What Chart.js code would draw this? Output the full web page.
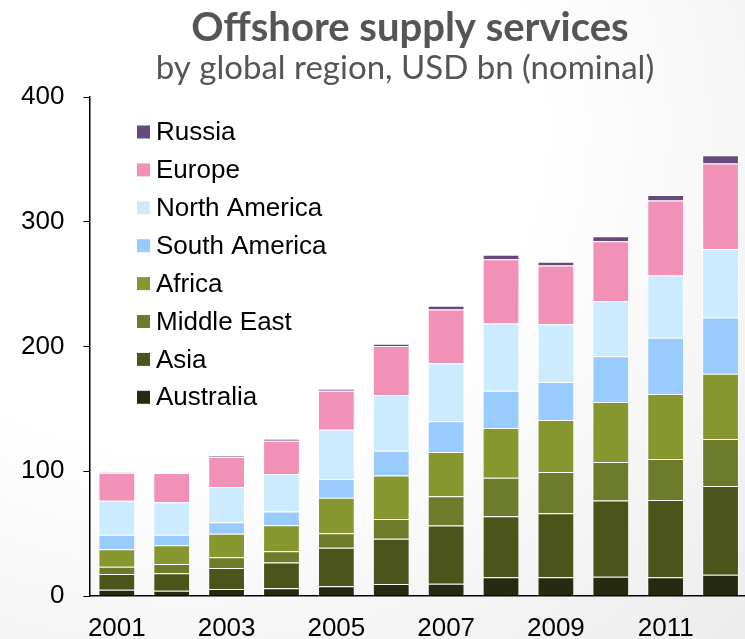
<!DOCTYPE html>
<html lang="en">
<head>
    <meta charset="UTF-8">
    <title>Offshore supply services</title>
    <script src="https://cdn.jsdelivr.net/npm/chart.js"></script>
    <style>
        html, body {
            margin: 0;
            padding: 0;
            width: 745px;
            height: 639px;
            overflow: hidden;
        }
        body {
            background: radial-gradient(ellipse at 25% 20%, #ffffff 45%, #ececec 100%);
        }
        canvas {
            display: block;
        }
    </style>
</head>
<body>
<canvas id="supplyChart" width="748" height="662"></canvas>

<script>
    // values, USD bn per region
    const years = ['2001', '2002', '2003', '2004', '2005', '2006', '2007', '2008', '2009', '2010', '2011', '2012'];
    const australia    = [5.0, 4.3, 5.6, 6.2, 7.8, 9.6, 9.9, 15.0, 15.0, 15.5, 15.0, 17.1];
    const asia         = [12.7, 13.9, 16.9, 20.6, 30.8, 36.2, 46.6, 49.0, 51.4, 61.1, 61.9, 71.0];
    const middleEast   = [5.8, 7.5, 8.5, 9.1, 11.7, 16.0, 23.5, 30.8, 32.9, 30.8, 32.9, 37.8];
    const africa       = [14.0, 15.0, 18.8, 20.9, 28.4, 34.8, 35.4, 39.9, 41.8, 48.2, 52.2, 52.2];
    const southAmerica = [11.5, 8.3, 9.4, 10.9, 15.0, 19.9, 24.6, 29.8, 30.5, 36.5, 45.0, 45.2];
    const northAmerica = [27.3, 26.2, 28.1, 30.0, 39.6, 44.7, 46.6, 54.0, 46.3, 44.1, 50.0, 54.9];
    const europe       = [22.5, 23.3, 24.1, 26.8, 31.3, 39.3, 43.1, 51.4, 47.1, 48.1, 60.0, 68.5];
    const russia       = [0.4, 0.3, 1.0, 1.4, 1.6, 1.7, 3.0, 3.7, 3.0, 4.1, 4.5, 6.7];

    const yMin = 0;
    const yMax = 400;
    const yStep = 100;

    const titleText = 'Offshore supply services';
    const subtitleText = 'by global region, USD bn (nominal)';

    const series = [
        { label: 'Australia', data: australia, color: '#262a10' },
        { label: 'Asia', data: asia, color: '#4b541b' },
        { label: 'Middle East', data: middleEast, color: '#6d7c2a' },
        { label: 'Africa', data: africa, color: '#869730' },
        { label: 'South America', data: southAmerica, color: '#99cbfe' },
        { label: 'North America', data: northAmerica, color: '#cdebff' },
        { label: 'Europe', data: europe, color: '#f191b7' },
        { label: 'Russia', data: russia, color: '#664a7c' }
    ];

    // title block sits a bit right of the canvas centre, like the slide
    const headerText = {
        id: 'headerText',
        afterDraw(chart) {
            const ctx = chart.ctx;
            ctx.save();
            ctx.fillStyle = '#555555';
            ctx.textAlign = 'center';
            ctx.textBaseline = 'middle';
            ctx.font = 'bold 40px Lato, sans-serif';
            ctx.fillText(titleText, 410, 28);
            ctx.font = '33px Lato, sans-serif';
            ctx.fillText(subtitleText, 405, 68);
            ctx.restore();
        }
    };

    // legend drawn inside the plot, top item = last dataset
    const sideLegend = {
        id: 'sideLegend',
        afterDraw(chart) {
            const ctx = chart.ctx;
            const ds = chart.data.datasets;
            ctx.save();
            ctx.font = '26px "Liberation Sans", Arial, sans-serif';
            ctx.textBaseline = 'middle';
            ctx.textAlign = 'left';
            for (let i = 0; i < ds.length; i++) {
                const d = ds[ds.length - 1 - i];
                const y = 132 + i * 37.9;
                ctx.fillStyle = d.backgroundColor;
                ctx.fillRect(137, y - 6.5, 13, 13);
                ctx.fillStyle = '#000';
                ctx.fillText(d.label, 156, y + 1);
            }
            ctx.restore();
        }
    };

    const supplyChart = new Chart(document.getElementById('supplyChart'), {
        type: 'bar',
        data: {
            labels: years,
            datasets: series.map(s => ({
                label: s.label,
                data: s.data,
                backgroundColor: s.color,
                borderColor: 'rgba(255,255,255,0.85)',
                borderWidth: 1,
                borderSkipped: 'bottom',
                barPercentage: 0.67,
                categoryPercentage: 1.0
            }))
        },
        options: {
            responsive: false,
            animation: false,
            layout: {
                padding: { left: 2, right: 0, top: 97, bottom: 0 }
            },
            plugins: {
                legend: { display: false },
                tooltip: { enabled: false },
                title: { display: false }
            },
            scales: {
                x: {
                    stacked: true,
                    grid: { display: false, drawTicks: false },
                    border: { display: true, color: '#000', width: 1.5 },
                    ticks: {
                        color: '#000',
                        font: { family: 'Liberation Sans', size: 26, lineHeight: 1 },
                        padding: 20,
                        maxRotation: 0,
                        autoSkip: false,
                        callback: (v, i) => (i % 2 === 0 ? years[i] : '')
                    }
                },
                y: {
                    stacked: true,
                    min: yMin,
                    max: yMax,
                    grid: { drawOnChartArea: false, drawTicks: true, tickLength: 6, color: '#000' },
                    border: { display: true, color: '#000', width: 1.5 },
                    ticks: {
                        stepSize: yStep,
                        color: '#000',
                        font: { family: 'Liberation Sans', size: 26 },
                        padding: 19
                    }
                }
            }
        },
        plugins: [sideLegend, headerText]
    });
</script>
</body>
</html>
